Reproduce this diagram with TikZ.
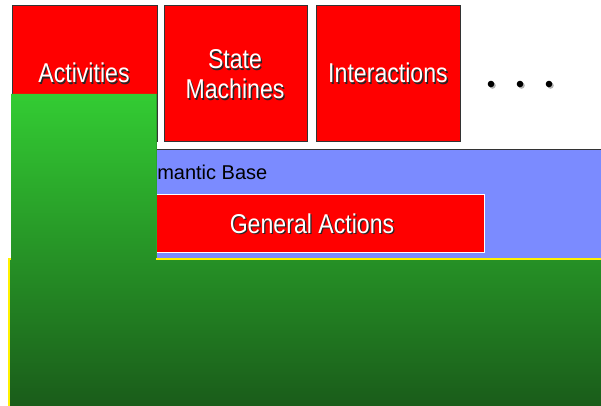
\documentclass[tikz,border=0pt]{standalone}
\usepackage{fontspec}
\setmainfont{Liberation Sans}
\newfontfamily\narrowsans[FakeStretch=0.85]{Liberation Sans}
\definecolor{boxred}{RGB}{255,0,0}
\definecolor{baseblue}{RGB}{123,139,255}
\definecolor{greentop}{RGB}{51,204,51}
\definecolor{greenbot}{RGB}{26,92,26}
\tikzset{
  redbox/.style={draw=black!80, fill=boxred, line width=0.75pt},
  boxtext/.style={text=white, inner sep=0pt, align=center,
    font=\narrowsans\fontsize{20.4}{22.5}\selectfont},
  shadowtext/.style={boxtext, text=black!85, xshift=1pt, yshift=-1pt},
}
\begin{document}
\begin{tikzpicture}[x=0.75pt,y=-0.75pt]
        \useasboundingbox (0,0) rectangle (601,406);
        % top boxes
        \draw[redbox] (12,6) rectangle (157,142);
        \draw[redbox] (164,6) rectangle (307,142);
        \draw[redbox] (316,6) rectangle (460,142);
        \node[shadowtext] (actshadow) at (84,73) {Activities};
        \node[boxtext] (act) at (84,73) {Activities};
        \node[shadowtext] (smshadow) at (235,74.5) {State\\Machines};
        \node[boxtext] (sm) at (235,74.5) {State\\Machines};
        \node[shadowtext] (intshadow) at (388,73) {Interactions};
        \node[boxtext] (int) at (388,73) {Interactions};
        % dots
        \foreach \x in {491,520,549} {
          \fill[black!30] (\x+1.5,85.5) circle (3.3);
          \fill (\x,84) circle (3.3);
        }
        % semantic base
        \fill[baseblue] (150,150) rectangle (601,259);
        \draw[black!80, line width=0.75pt] (150,150) -- (601,150);
        \node[anchor=base west, inner sep=0pt, font=\fontsize{15}{18}\selectfont] (sembase) at (157,180) {mantic Base};
        \draw[white, fill=boxred, line width=0.75pt] (150,195) rectangle (484,253);
        \node[shadowtext] (gashadow) at (312,223.5) {General Actions};
        \node[boxtext] (ga) at (312,223.5) {General Actions};
        % green
        \shade[top color=greentop, bottom color=greenbot]
          (11,94) -- (156,94) -- (156,259) -- (601,259) -- (601,406)
          -- (9,406) -- (9,259) -- (11,259) -- cycle;
        \draw[greentop!80!black, line width=0.75pt] (156,94) -- (156,259);
        \draw[yellow, line width=1.5pt] (9,406) -- (9,259) -- (11,259);
        \draw[yellow, line width=1.5pt] (156,259) -- (601,259);
\end{tikzpicture}
\end{document}
